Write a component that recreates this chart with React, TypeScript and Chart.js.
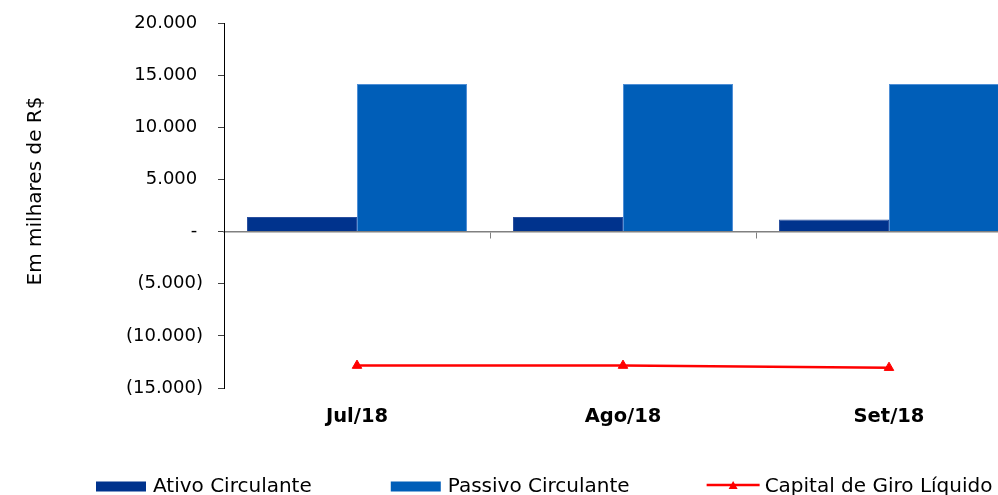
import React, { useEffect, useRef } from "react";
import { Chart, registerables } from "chart.js";

Chart.register(...registerables);

// Months shown on the category axis
const months = ["Jul/18", "Ago/18", "Set/18"];
// Current assets, R$ thousands
const ativoCirculante = [1400, 1400, 1150];
// Current liabilities, R$ thousands
const passivoCirculante = [14150, 14150, 14150];
// Net working capital, R$ thousands
const capitalGiroLiquido = [-12850, -12850, -13050];

// Value axis range and step
const yMin = -15000;
const yMax = 20000;
const yStep = 5000;

const seriesNames = ["Ativo Circulante", "Passivo Circulante", "Capital de Giro Líquido"];
const yTitle = "Em milhares de R$";

const FONT = "'DejaVu Sans', 'Noto Sans', sans-serif";
const AZUL_ESCURO = "#00338D";
const AZUL_MEDIO = "#005EB8";
const VERMELHO = "#FF0000";

const thousands = (n: number) =>
  String(Math.round(n)).replace(/\B(?=(\d{3})+(?!\d))/g, ".");

// Accounting style: negatives in parentheses, zero as a dash,
// non-negatives padded so digits line up with the bracketed ones.
const accounting = (v: number) => {
  if (v === 0) return "- ";
  if (v < 0) return `(${thousands(-v)})`;
  return `${thousands(v)} `;
};

// Rotated axis caption on the left side
const axisCaption = {
  id: "axisCaption",
  afterDraw(chart: Chart) {
    const { ctx } = chart;
    ctx.save();
    ctx.translate(36, 191);
    ctx.rotate(-Math.PI / 2);
    ctx.font = `20px ${FONT}`;
    ctx.fillStyle = "#000";
    ctx.textAlign = "center";
    ctx.textBaseline = "middle";
    ctx.fillText(yTitle, 0, 0);
    ctx.restore();
  },
};

// Single-row legend along the bottom edge
const bottomLegend = {
  id: "bottomLegend",
  afterDraw(chart: Chart) {
    const { ctx } = chart;
    ctx.save();
    ctx.font = `20px ${FONT}`;
    ctx.textBaseline = "alphabetic";
    ctx.textAlign = "left";
    const midY = 486.5;
    const baseline = 492.3;
    let x = 96;
    chart.data.datasets.forEach((ds: any, i: number) => {
      const isLine = ds.type === "line";
      let textX: number;
      if (isLine) {
        const w = 53;
        ctx.strokeStyle = ds.borderColor;
        ctx.lineWidth = 2.5;
        ctx.beginPath();
        ctx.moveTo(x, midY - 1.5);
        ctx.lineTo(x + w, midY - 1.5);
        ctx.stroke();
        const cx = x + w / 2;
        ctx.fillStyle = ds.borderColor;
        ctx.beginPath();
        ctx.moveTo(cx, midY - 5.5);
        ctx.lineTo(cx + 4.5, midY + 2.5);
        ctx.lineTo(cx - 4.5, midY + 2.5);
        ctx.closePath();
        ctx.fill();
        textX = x + w + 5;
      } else {
        ctx.fillStyle = ds.backgroundColor;
        ctx.fillRect(x, midY - 5, 50, 10);
        textX = x + 50 + 7;
      }
      ctx.fillStyle = "#000";
      ctx.fillText(ds.label, textX, baseline);
      x = textX + ctx.measureText(ds.label).width + (i === 0 ? 79 : 77);
    });
    ctx.restore();
  },
};

export default function App() {
  const canvasRef = useRef<HTMLCanvasElement | null>(null);

  useEffect(() => {
    if (!canvasRef.current) return;
    const chart = new Chart(canvasRef.current, {
      type: "bar",
      data: {
        labels: months,
        datasets: [
          {
            type: "bar",
            label: seriesNames[0],
            data: ativoCirculante,
            backgroundColor: AZUL_ESCURO,
            borderColor: "#2a4f9e",
            borderWidth: 1,
            borderSkipped: "start",
            barPercentage: 1,
            categoryPercentage: 0.827,
            order: 1,
          },
          {
            type: "bar",
            label: seriesNames[1],
            data: passivoCirculante,
            backgroundColor: AZUL_MEDIO,
            borderColor: "#4f8fd6",
            borderWidth: 1,
            borderSkipped: "start",
            barPercentage: 1,
            categoryPercentage: 0.827,
            order: 1,
          },
          {
            type: "line",
            label: seriesNames[2],
            data: capitalGiroLiquido,
            borderColor: VERMELHO,
            backgroundColor: VERMELHO,
            borderWidth: 2.5,
            pointStyle: "triangle",
            pointRadius: 5.5,
            pointBorderWidth: 1,
            tension: 0,
            fill: false,
            order: 0,
          } as any,
        ],
      },
      options: {
        responsive: false,
        animation: false,
        events: [],
        layout: {
          autoPadding: false,
          padding: { top: 23, bottom: 57, left: 0, right: 0 },
        },
        plugins: {
          legend: { display: false },
          tooltip: { enabled: false },
          title: { display: false },
        },
        scales: {
          x: {
            type: "category",
            position: { y: 0 } as any,
            offset: true,
            grid: {
              offset: true,
              drawOnChartArea: false,
              drawTicks: true,
              tickLength: 6,
              color: "#808080",
              lineWidth: 1,
            },
            border: { display: true, color: "#808080", width: 1.5 },
            ticks: { display: false },
          },
          x2: {
            type: "category",
            position: "bottom",
            offset: true,
            grid: { display: false, offset: true },
            border: { display: false },
            ticks: {
              color: "#000",
              padding: 9,
              autoSkip: false,
              maxRotation: 0,
              font: { family: FONT, size: 19.5, weight: "bold" },
            },
            afterFit: (scale: any) => {
              scale.height = 50;
            },
          },
          y: {
            type: "linear",
            position: "left",
            min: yMin,
            max: yMax,
            grid: {
              drawOnChartArea: false,
              drawTicks: true,
              tickLength: 6,
              color: "#404040",
            },
            border: { display: true, color: "#000", width: 1 },
            ticks: {
              stepSize: yStep,
              color: "#000",
              padding: 15,
              font: { family: FONT, size: 18, lineHeight: 0.75 },
              callback: (v: any) => accounting(Number(v)),
            },
            afterFit: (scale: any) => {
              scale.width = 224;
            },
          },
        },
      } as any,
      plugins: [axisCaption, bottomLegend],
    });
    return () => chart.destroy();
  }, []);

  return (
    <div
      style={{
        position: "fixed",
        left: 0,
        top: 0,
        width: 998,
        height: 495,
        overflow: "hidden",
        background: "#fff",
      }}
    >
      <canvas
        ref={canvasRef}
        width={1022}
        height={495}
        style={{ display: "block", width: 1022, height: 495 }}
      />
    </div>
  );
}
